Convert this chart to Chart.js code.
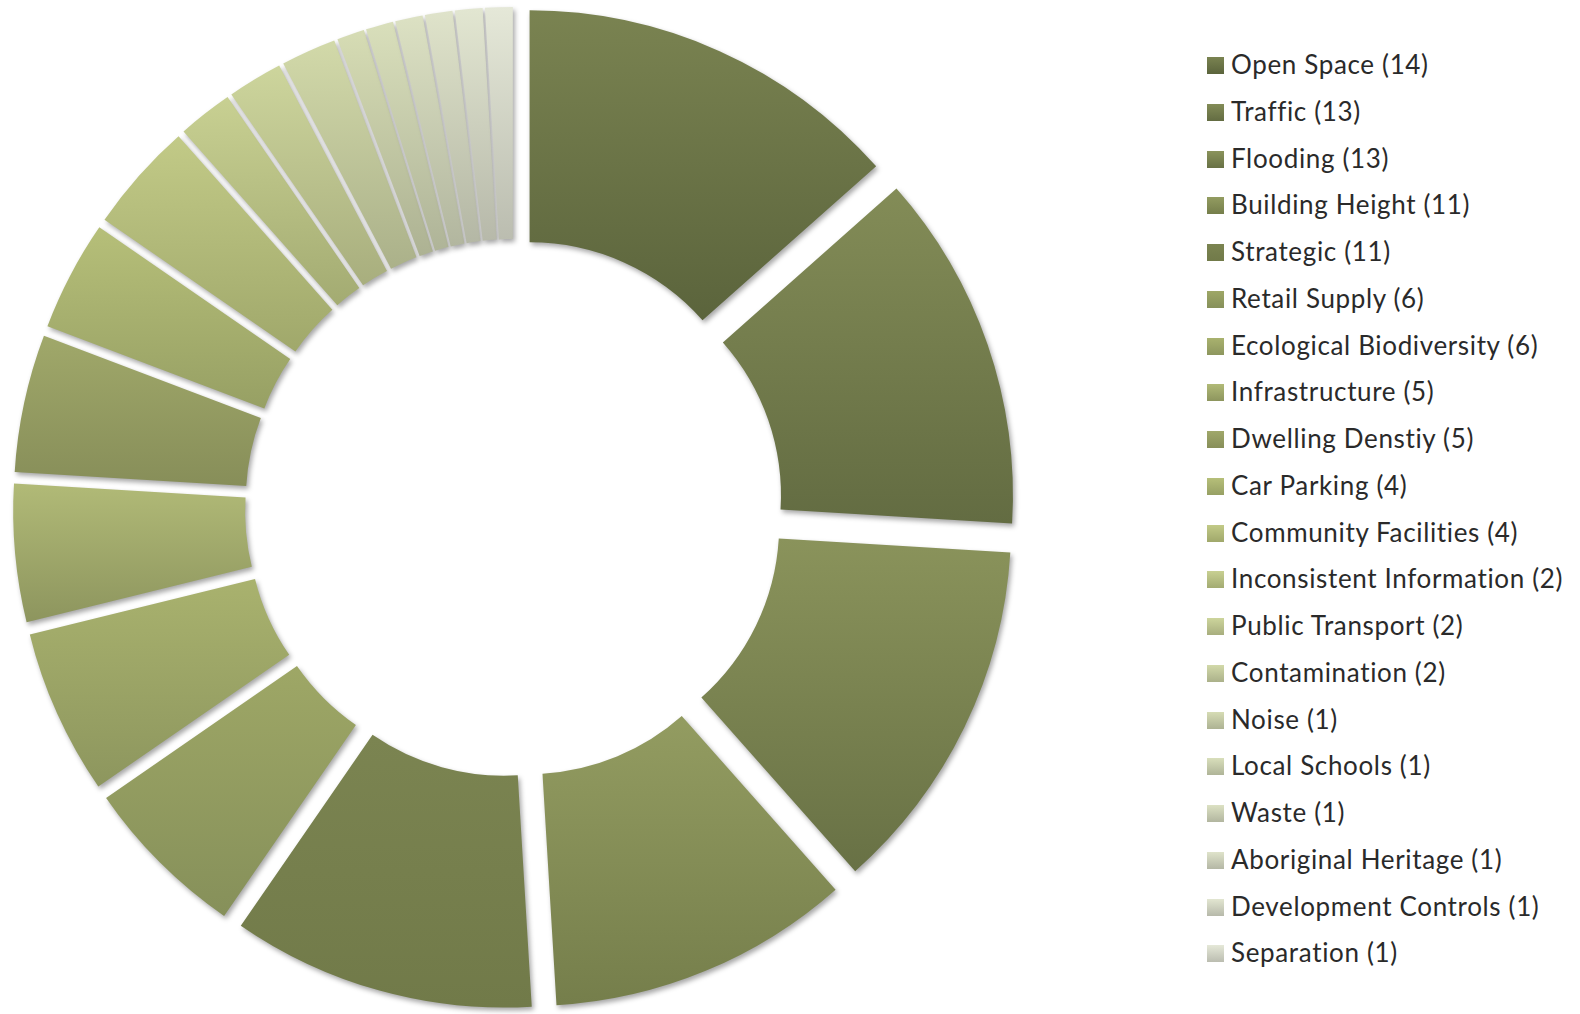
<!DOCTYPE html>
<html>
<head>
<meta charset="utf-8">
<script src="https://cdn.jsdelivr.net/npm/chart.js@4.4.1/dist/chart.umd.min.js"></script>
<style>
    html, body { margin: 0; padding: 0; background: #fff; width: 1580px; height: 1014px; overflow: hidden; }
    #chartBox { position: absolute; left: 0; top: 0; width: 1028px; height: 1014px; }
    #legend { position: absolute; left: 1207px; top: 49px; font-family: Lato, sans-serif; font-size: 26px; letter-spacing: 0.65px; color: #2a2a2a; }
    .item { height: 46.75px; line-height: 30px; white-space: nowrap; }
    .swatch { display: inline-block; width: 17px; height: 17px; margin-right: 7px; }
</style>
</head>
<body>
<div id="chartBox"><canvas id="issuesChart" width="1028" height="1014"></canvas></div>
<div id="legend"></div>
<script>
// Issues raised, number of submissions per topic
const categories = [
    'Open Space', 'Traffic', 'Flooding', 'Building Height', 'Strategic',
    'Retail Supply', 'Ecological Biodiversity', 'Infrastructure', 'Dwelling Denstiy', 'Car Parking',
    'Community Facilities', 'Inconsistent Information', 'Public Transport', 'Contamination', 'Noise',
    'Local Schools', 'Waste', 'Aboriginal Heritage', 'Development Controls', 'Separation'
];
const counts = [14, 13, 13, 11, 11, 6, 6, 5, 5, 4, 4, 2, 2, 2, 1, 1, 1, 1, 1, 1];

// Slice colours (top -> bottom of each slice)
const sliceTop = [
    '#7a8351', '#838c57', '#8a935b', '#939c61', '#7b8451',
    '#9ea766', '#a9b26e', '#b1ba77', '#a0a86a', '#b6bf79',
    '#c2ca87', '#c8d092', '#cdd59c', '#d2d9a9', '#d6dcb4',
    '#d9dfbb', '#dce1c3', '#dfe3ca', '#e2e6d1', '#e5e8d8'
];
const sliceBottom = [
    '#5b643c', '#636c42', '#687145', '#757e4b', '#717a49',
    '#86905a', '#8d965e', '#8d955e', '#878e59', '#97a064',
    '#a0a86b', '#a3ab72', '#a8ae7e', '#abb18a', '#adb293',
    '#afb498', '#b2b69f', '#b4b7a5', '#b7b9aa', '#bbbdb0'
];

const EXPLODE = 38;

// Draw each slice pulled out along its bisector, with gradient and soft shadow
const explodedSlices = {
    id: 'explodedSlices',
    beforeDatasetDraw(chart, args) {
        const ctx = chart.ctx;
        args.meta.data.forEach(function (arc, i) {
            const { x, y, startAngle, endAngle, innerRadius, outerRadius } = arc;
            const ys = [];
            [startAngle, endAngle].forEach(function (a) {
                ys.push(y + Math.sin(a) * innerRadius, y + Math.sin(a) * outerRadius);
            });
            [-Math.PI / 2, Math.PI / 2, 3 * Math.PI / 2].forEach(function (a) {
                if (a > startAngle && a < endAngle) ys.push(y + Math.sin(a) * outerRadius);
            });
            const top = Math.min.apply(null, ys);
            const bottom = Math.max.apply(null, ys);
            const grad = ctx.createLinearGradient(0, top, 0, bottom);
            grad.addColorStop(0, sliceTop[i]);
            grad.addColorStop(1, sliceBottom[i]);
            arc.options = Object.assign({}, arc.options, { backgroundColor: grad });

            const mid = (startAngle + endAngle) / 2;
            ctx.save();
            ctx.translate(Math.cos(mid) * EXPLODE, Math.sin(mid) * EXPLODE);
            ctx.shadowColor = 'rgba(0, 0, 0, 0.35)';
            ctx.shadowBlur = 5;
            ctx.shadowOffsetX = 2;
            ctx.shadowOffsetY = 3;
            arc.draw(ctx);
            ctx.restore();
        });
        return false;
    }
};

const chartCtx = document.getElementById('issuesChart').getContext('2d');
new Chart(chartCtx, {
    type: 'doughnut',
    data: {
        labels: categories,
        datasets: [{
            data: counts,
            backgroundColor: sliceTop,
            borderWidth: 0
        }]
    },
    options: {
        responsive: false,
        animation: false,
        events: [],
        radius: 463,
        cutout: '49.9%',
        layout: { padding: { top: 2 } },
        plugins: {
            legend: { display: false },
            tooltip: { enabled: false }
        }
    },
    plugins: [explodedSlices]
});

// Legend
const legendEl = document.getElementById('legend');
categories.forEach(function (name, i) {
    const row = document.createElement('div');
    row.className = 'item';
    const box = document.createElement('span');
    box.className = 'swatch';
    box.style.background = 'linear-gradient(' + sliceTop[i] + ', ' + sliceBottom[i] + ')';
    row.appendChild(box);
    row.appendChild(document.createTextNode(name + ' (' + counts[i] + ')'));
    legendEl.appendChild(row);
});
</script>
</body>
</html>
